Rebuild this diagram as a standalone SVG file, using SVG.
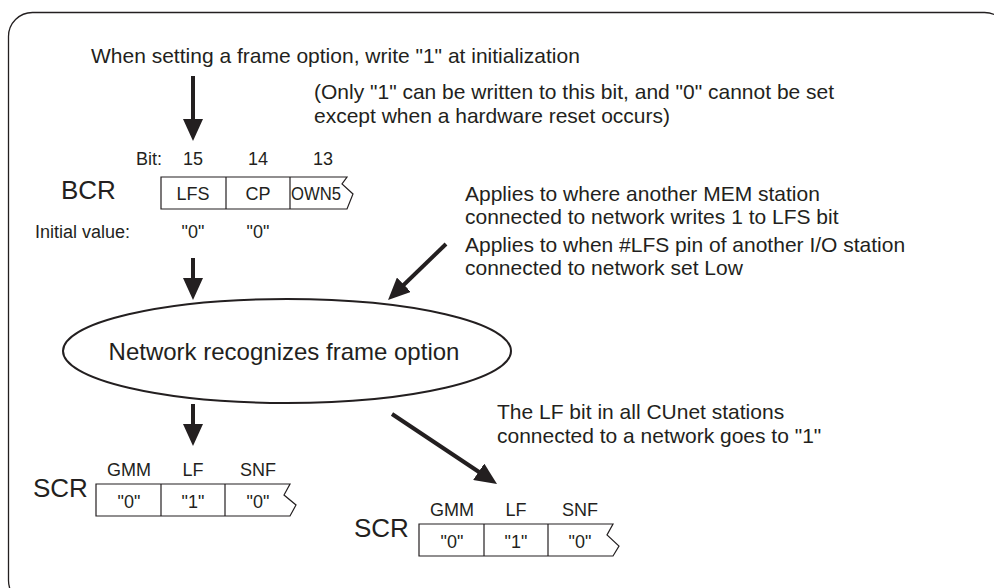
<svg xmlns="http://www.w3.org/2000/svg" width="994" height="588" viewBox="0 0 994 588">
<defs>
<style>
text{font-family:"Liberation Sans",Arial,sans-serif;fill:#231f20}
.t16{font-size:21px}
.t14{font-size:18px}
.big{font-size:26px}
.reg{fill:#fff;stroke:#231f20;stroke-width:1.2}
.div{stroke:#231f20;stroke-width:1.2}
.arr{stroke:#231f20;stroke-width:4;fill:none;marker-end:url(#ah)}
.mid{text-anchor:middle}
</style>
<marker id="ah" viewBox="0 0 22 20" refX="4" refY="10" markerUnits="userSpaceOnUse" markerWidth="22" markerHeight="20" orient="auto">
<path d="M0,0 L22,10 L0,20 z" fill="#231f20"/>
</marker>
</defs>
<rect width="994" height="588" fill="#fff"/>
<rect x="8.5" y="12.5" width="1000" height="592" rx="24" fill="none" stroke="#231f20" stroke-width="1.3"/>

<g id="note-top">
<text class="t16" x="91" y="63">When setting a frame option, write "1" at initialization</text>
<text class="t16" x="314" y="99">(Only "1" can be written to this bit, and "0" cannot be set</text>
<text class="t16" x="314" y="123">except when a hardware reset occurs)</text>
</g>

<g id="bcr">
<text class="t14" x="136" y="165">Bit:</text>
<text class="t14 mid" x="193" y="165">15</text>
<text class="t14 mid" x="258" y="165">14</text>
<text class="t14 mid" x="323" y="165">13</text>
<text class="big" x="61" y="199">BCR</text>
<path class="reg" d="M161,177 H347 L342,184 L353,194 L347,209 H161 Z"/>
<line class="div" x1="226" y1="177" x2="226" y2="209"/>
<line class="div" x1="290" y1="177" x2="290" y2="209"/>
<text class="t14 mid" x="193" y="200">LFS</text>
<text class="t14 mid" x="258" y="200">CP</text>
<text class="t14" x="291" y="200" textLength="50" lengthAdjust="spacingAndGlyphs">OWN5</text>
<text class="t14" x="35" y="238">Initial value:</text>
<text class="t14 mid" x="193" y="238">"0"</text>
<text class="t14 mid" x="258" y="238">"0"</text>
</g>

<g id="note-apply">
<text class="t16" x="465" y="201">Applies to where another MEM station</text>
<text class="t16" x="465" y="224">connected to network writes 1 to LFS bit</text>
<text class="t16" x="465" y="252">Applies to when #LFS pin of another I/O station</text>
<text class="t16" x="465" y="275">connected to network set Low</text>
</g>

<g id="network">
<ellipse cx="287" cy="351" rx="224" ry="52" fill="#fff" stroke="#231f20" stroke-width="2"/>
<text class="mid" x="284" y="360" style="font-size:24px">Network recognizes frame option</text>
</g>

<g id="note-lf">
<text class="t16" x="497" y="419">The LF bit in all CUnet stations</text>
<text class="t16" x="497" y="443">connected to a network goes to "1"</text>
</g>

<g id="scr1">
<text class="big" x="33" y="497">SCR</text>
<text class="t14 mid" x="129" y="476">GMM</text>
<text class="t14 mid" x="193" y="476">LF</text>
<text class="t14 mid" x="258" y="476">SNF</text>
<path class="reg" d="M96,484 H290 L284,495 L296,505 L290,516 H96 Z"/>
<line class="div" x1="161" y1="484" x2="161" y2="516"/>
<line class="div" x1="225" y1="484" x2="225" y2="516"/>
<text class="t14 mid" x="129" y="508">"0"</text>
<text class="t14 mid" x="193" y="508">"1"</text>
<text class="t14 mid" x="258" y="508">"0"</text>
</g>

<g id="scr2">
<text class="big" x="354" y="537">SCR</text>
<text class="t14 mid" x="452" y="516">GMM</text>
<text class="t14 mid" x="516" y="516">LF</text>
<text class="t14 mid" x="580" y="516">SNF</text>
<path class="reg" d="M419,524 H613 L607,535 L619,546 L613,556 H419 Z"/>
<line class="div" x1="484" y1="524" x2="484" y2="556"/>
<line class="div" x1="548" y1="524" x2="548" y2="556"/>
<text class="t14 mid" x="452" y="548">"0"</text>
<text class="t14 mid" x="516" y="548">"1"</text>
<text class="t14 mid" x="580" y="548">"0"</text>
</g>

<g id="connectors">
<line class="arr" x1="193" y1="76" x2="193" y2="123"/>
<line class="arr" x1="193" y1="258" x2="193" y2="282"/>
<line class="arr" x1="446" y1="244" x2="401" y2="287.5"/>
<line class="arr" x1="193" y1="404" x2="193" y2="428"/>
<line class="arr" x1="392" y1="414" x2="482" y2="474"/>
</g>
</svg>
